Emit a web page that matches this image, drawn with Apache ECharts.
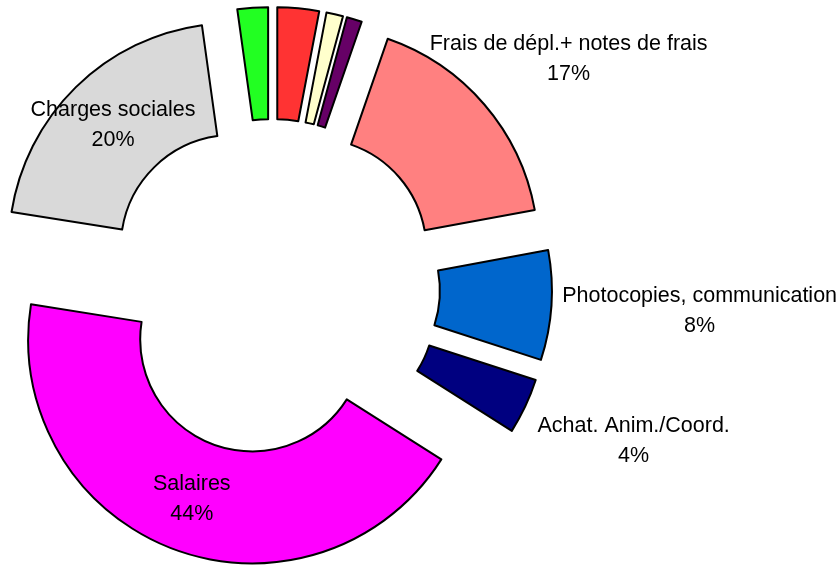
<!DOCTYPE html>
<html>
<head>
<meta charset="utf-8">
<script src="https://cdn.jsdelivr.net/npm/echarts@6/dist/echarts.min.js"></script>
<style>
  html, body { margin: 0; padding: 0; background: #fff; }
  #chart { width: 839px; height: 565px; }
</style>
</head>
<body>
<div id="chart"></div>
<script>
// parts of the budget, clockwise from 12 o'clock (values in %)
const categories = ['Autre 1', 'Autre 2', 'Autre 3', 'Frais de dépl.+ notes de frais',
  'Photocopies, communication', 'Achat. Anim./Coord.', 'Salaires', 'Charges sociales', 'Autre 4'];
const values = [3.0, 1.2, 1.1, 16.8, 7.9, 4.0, 43.5, 20.3, 2.2];
const colors = ['#FF3333', '#FFFFCC', '#660066', '#FF8080', '#0066CC', '#000080', '#FF00FF', '#D9D9D9', '#22FF22'];
const labelMode = ['none', 'none', 'none', 'outside', 'outside', 'outside', 'inside', 'inside', 'none'];

// how far the (hidden) label lines push the outside labels: [length, length2]
const labelReach = {
  3: [69, -112],
  4: [91, -85],
  5: [83, -68],
};

const chart = echarts.init(document.getElementById('chart'));

const seriesData = categories.map((name, i) => {
  const reach = labelReach[i] || [15, 15];
  return {
    name: name,
    value: values[i],
    selected: true,
    itemStyle: { color: colors[i] },
    label: {
      show: labelMode[i] !== 'none',
      position: labelMode[i] === 'inside' ? 'inside' : 'outside',
    },
    labelLine: { show: false, length: reach[0], length2: reach[1] },
  };
});

const textStyle = {
  color: '#000',
  fontFamily: 'Liberation Sans, Arial, sans-serif',
  fontSize: 21.5,
  lineHeight: 30,
  align: 'center',
};

const option = {
  animation: false,
  series: [{
    type: 'pie',
    center: [272, 287],
    radius: [112, 224],
    startAngle: 90,
    clockwise: true,
    avoidLabelOverlap: false,
    selectedMode: 'multiple',
    selectedOffset: 56,
    itemStyle: {
      borderColor: '#000',
      borderWidth: 2,
    },
    emphasis: { disabled: true },
    label: Object.assign({}, textStyle, {
      overflow: 'none',
      rich: { t: textStyle },
      formatter: (p) => '{t|' + p.name + '}\n{t|' + Math.round(p.percent) + '%}',
    }),
    data: seriesData,
  }],
};

chart.setOption(option);
</script>
</body>
</html>
